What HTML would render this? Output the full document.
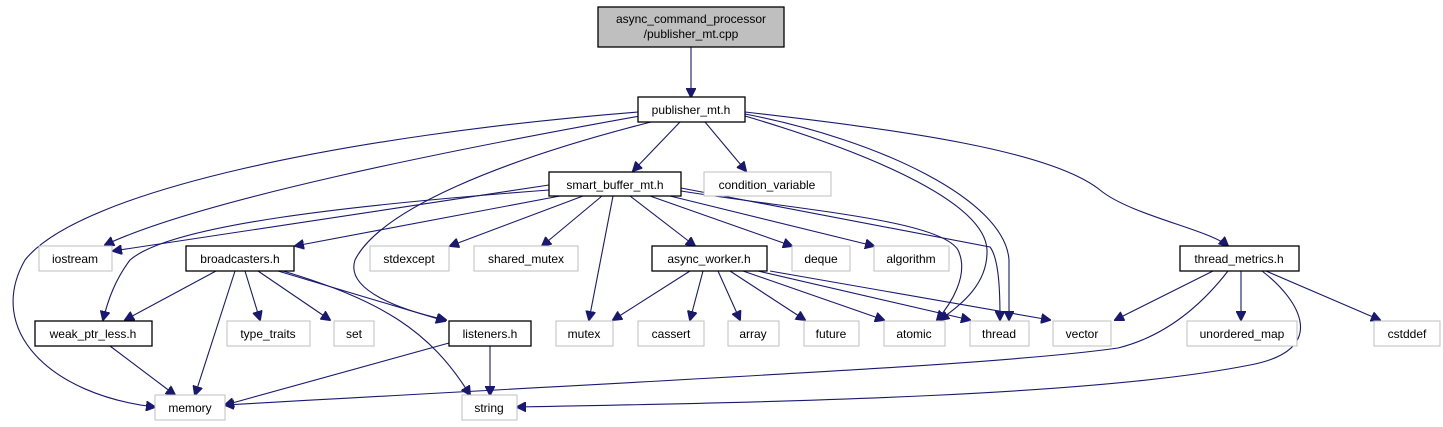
<!DOCTYPE html>
<html><head><meta charset="utf-8"><style>
html,body{margin:0;padding:0;background:#fff;}
svg{display:block;}
text{font-family:"Liberation Sans",sans-serif;font-size:12px;text-anchor:middle;fill:#000;}
.b{fill:#fff;stroke:#000;stroke-width:1.3;}
.g{fill:#fff;stroke:#bfbfbf;stroke-width:1;}
.e{fill:none;stroke:#191970;stroke-width:1.1;}
</style></head><body>
<svg width="1443" height="427" viewBox="0 0 1443 427" xmlns="http://www.w3.org/2000/svg">
<defs><marker id="a" viewBox="0 0 10 10" refX="9" refY="5" markerWidth="10" markerHeight="10" markerUnits="userSpaceOnUse" orient="auto"><path d="M0,0 L10,5 L0,10 z" fill="#191970" stroke="#191970"/></marker></defs>
<g class="e" marker-end="url(#a)">
<path d="M691,47 L691,97"/>
<path d="M638,112 C350,135 80,190 25,260 C-15,330 50,395 155,407"/>
<path d="M640,116 C450,150 200,200 105,245"/>
<path d="M655,121 C500,160 380,210 355,260 C345,290 400,310 446,320"/>
<path d="M680,122 L633,171"/>
<path d="M705,122 L746,171"/>
<path d="M745,116 C860,150 985,200 987,250 C988,285 960,305 940,320"/>
<path d="M745,114 C880,140 1005,200 1009,260 L1009,320"/>
<path d="M745,112 C900,130 1050,150 1100,190 C1130,215 1210,230 1228,246"/>
<path d="M549,185 L113,251"/>
<path d="M549,190 C350,205 170,225 130,260 C115,280 108,300 103,320"/>
<path d="M560,196 L295,246"/>
<path d="M583,196 L450,246"/>
<path d="M602,196 L542,246"/>
<path d="M613,196 L589,320"/>
<path d="M630,196 L695,246"/>
<path d="M650,196 L792,246"/>
<path d="M670,196 L874,246"/>
<path d="M681,191 C800,210 940,220 958,250 C970,275 950,305 937,320"/>
<path d="M681,188 L990,247 C1000,260 1000,300 1000,320"/>
<path d="M216,271 L125,320"/>
<path d="M235,271 L195,395"/>
<path d="M245,271 L260,320"/>
<path d="M258,271 L330,320"/>
<path d="M278,271 L445,321"/>
<path d="M283,271 C380,300 430,330 470,395"/>
<path d="M110,346 L175,395"/>
<path d="M449,343 L225,405"/>
<path d="M490,346 L490,395"/>
<path d="M690,271 L613,320"/>
<path d="M703,271 L690,320"/>
<path d="M718,271 L740,320"/>
<path d="M730,271 L805,320"/>
<path d="M743,271 L884,320"/>
<path d="M758,271 L970,320"/>
<path d="M770,271 L1050,320"/>
<path d="M1213,271 L1115,320"/>
<path d="M1228,271 C1190,320 1150,340 1118,348 C1000,365 700,378 225,405"/>
<path d="M1241,271 L1241,320"/>
<path d="M1262,271 C1300,300 1330,350 1250,365 C1100,395 800,402 517,407"/>
<path d="M1266,271 L1380,320"/>
</g>
<rect x="598" y="7" width="186" height="40" fill="#bfbfbf" stroke="#000" stroke-width="1.3"/>
<text x="691" y="23">async_command_processor</text><text x="691" y="38">/publisher_mt.cpp</text>
<rect class="b" x="638" y="97" width="107" height="25"/><text x="691" y="114">publisher_mt.h</text>
<rect class="b" x="549" y="172" width="132" height="24"/><text x="615" y="189">smart_buffer_mt.h</text>
<rect class="g" x="704" y="172" width="127" height="24"/><text x="767" y="189">condition_variable</text>
<rect class="g" x="39" y="246" width="73" height="25"/><text x="75" y="263">iostream</text>
<rect class="b" x="186" y="246" width="108" height="25"/><text x="240" y="263">broadcasters.h</text>
<rect class="g" x="370" y="246" width="79" height="25"/><text x="409" y="263">stdexcept</text>
<rect class="g" x="474" y="246" width="104" height="25"/><text x="526" y="263">shared_mutex</text>
<rect class="b" x="652" y="246" width="115" height="25"/><text x="709" y="263">async_worker.h</text>
<rect class="g" x="792" y="246" width="58" height="25"/><text x="821" y="263">deque</text>
<rect class="g" x="874" y="246" width="75" height="25"/><text x="911" y="263">algorithm</text>
<rect class="b" x="1180" y="246" width="119" height="25"/><text x="1239" y="263">thread_metrics.h</text>
<rect class="b" x="35" y="321" width="117" height="25"/><text x="93" y="338">weak_ptr_less.h</text>
<rect class="g" x="227" y="321" width="83" height="25"/><text x="268" y="338">type_traits</text>
<rect class="g" x="334" y="321" width="40" height="25"/><text x="354" y="338">set</text>
<rect class="b" x="449" y="321" width="82" height="25"/><text x="490" y="338">listeners.h</text>
<rect class="g" x="556" y="321" width="57" height="25"/><text x="584" y="338">mutex</text>
<rect class="g" x="638" y="321" width="66" height="25"/><text x="671" y="338">cassert</text>
<rect class="g" x="728" y="321" width="51" height="25"/><text x="753" y="338">array</text>
<rect class="g" x="804" y="321" width="55" height="25"/><text x="831" y="338">future</text>
<rect class="g" x="884" y="321" width="61" height="25"/><text x="914" y="338">atomic</text>
<rect class="g" x="970" y="321" width="59" height="25"/><text x="999" y="338">thread</text>
<rect class="g" x="1053" y="321" width="58" height="25"/><text x="1082" y="338">vector</text>
<rect class="g" x="1187" y="321" width="110" height="25"/><text x="1242" y="338">unordered_map</text>
<rect class="g" x="1374" y="321" width="66" height="25"/><text x="1407" y="338">cstddef</text>
<rect class="g" x="155" y="395" width="70" height="25"/><text x="190" y="412">memory</text>
<rect class="g" x="462" y="395" width="55" height="25"/><text x="489" y="412">string</text>
</svg>
</body></html>
